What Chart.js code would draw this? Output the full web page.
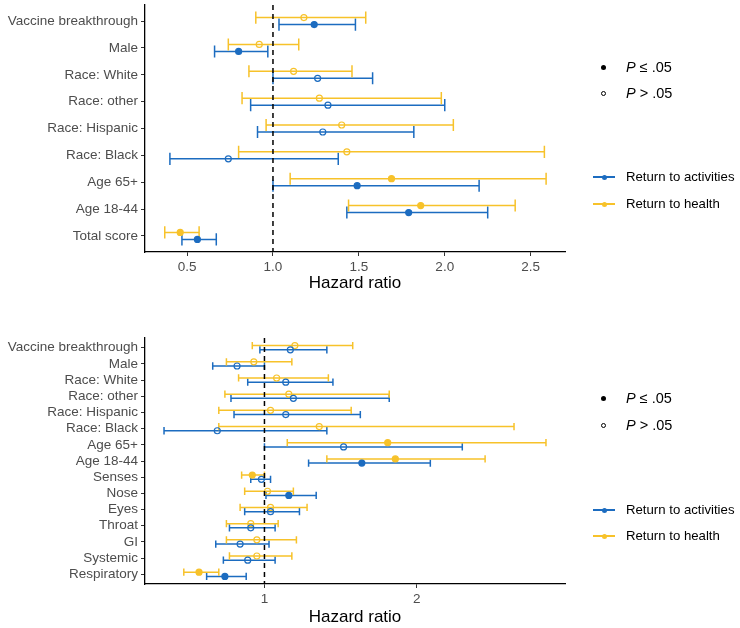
<!DOCTYPE html>
<html>
<head>
<meta charset="utf-8">
<script src="https://cdn.jsdelivr.net/npm/chart.js@4/dist/chart.umd.min.js"></script>
<style>
  html, body { margin: 0; padding: 0; background: #fff; }
  body { width: 740px; height: 628px; position: relative; overflow: hidden; font-family: "Liberation Sans", Arial, sans-serif; }
  .cv { position: absolute; left: 0; }
  .leg { position: absolute; left: 0; top: 0; font-family: "Liberation Sans", Arial, sans-serif; color: #000; }
  .row { position: absolute; height: 20px; line-height: 20px; white-space: nowrap; }
  .p { font-size: 14.5px; left: 626px; }
  .s { font-size: 13.2px; left: 626px; }
  .dot { position: absolute; width: 5px; height: 5px; border-radius: 50%; box-sizing: border-box; }
  .keyline { position: absolute; height: 1.5px; width: 22px; }
</style>
</head>
<body>
<div class="cv" style="top:0;width:740px;height:310px;"><canvas id="c1"></canvas></div>
<div class="cv" style="top:310px;width:740px;height:318px;"><canvas id="c2"></canvas></div>
<div class="leg" id="leg"></div>
<script>
// ---------- DATA ----------
const seriesNames = ["Return to activities", "Return to health"];
const seriesColors = ["#1c6cc0", "#f7c22a"];

// Top panel (listed top to bottom)
const cats1 = ["Vaccine breakthrough","Male","Race: White","Race: other","Race: Hispanic","Race: Black","Age 65+","Age 18-44","Total score"];
const act1HR  = [1.24, 0.80, 1.26, 1.32, 1.29, 0.74, 1.49, 1.79, 0.56];
const act1Lo  = [1.035,0.66, 1.00, 0.87, 0.91, 0.40, 1.00, 1.43, 0.47];
const act1Hi  = [1.48, 0.97, 1.58, 2.00, 1.82, 1.38, 2.20, 2.25, 0.67];
const act1Sig = [1, 1, 0, 0, 0, 0, 1, 1, 1];
const hea1HR  = [1.18, 0.92, 1.12, 1.27, 1.40, 1.43, 1.69, 1.86, 0.46];
const hea1Lo  = [0.90, 0.74, 0.86, 0.82, 0.96, 0.80, 1.10, 1.44, 0.37];
const hea1Hi  = [1.54, 1.15, 1.46, 1.98, 2.05, 2.58, 2.59, 2.41, 0.57];
const hea1Sig = [0, 0, 0, 0, 0, 0, 1, 1, 1];
const xTicks1 = [0.5, 1.0, 1.5, 2.0, 2.5];
const xTickLabels1 = ["0.5", "1.0", "1.5", "2.0", "2.5"];

// Bottom panel (listed top to bottom)
const cats2 = ["Vaccine breakthrough","Male","Race: White","Race: other","Race: Hispanic","Race: Black","Age 65+","Age 18-44","Senses","Nose","Eyes","Throat","GI","Systemic","Respiratory"];
const act2HR  = [1.17, 0.82, 1.14, 1.19, 1.14, 0.69, 1.52, 1.64, 0.98, 1.16, 1.04, 0.91, 0.84, 0.89, 0.74];
const act2Lo  = [0.97, 0.66, 0.89, 0.78, 0.80, 0.34, 1.00, 1.29, 0.91, 1.01, 0.87, 0.77, 0.68, 0.73, 0.62];
const act2Hi  = [1.41, 1.00, 1.45, 1.82, 1.63, 1.41, 2.30, 2.09, 1.04, 1.34, 1.23, 1.07, 1.03, 1.07, 0.88];
const act2Sig = [0, 0, 0, 0, 0, 0, 0, 1, 0, 1, 0, 0, 0, 0, 1];
const hea2HR  = [1.20, 0.93, 1.08, 1.16, 1.04, 1.36, 1.81, 1.86, 0.92, 1.02, 1.04, 0.91, 0.95, 0.95, 0.57];
const hea2Lo  = [0.92, 0.75, 0.83, 0.74, 0.70, 0.70, 1.15, 1.41, 0.85, 0.87, 0.84, 0.75, 0.75, 0.77, 0.47];
const hea2Hi  = [1.58, 1.18, 1.42, 1.82, 1.57, 2.64, 2.85, 2.45, 1.00, 1.19, 1.28, 1.09, 1.21, 1.18, 0.70];
const hea2Sig = [0, 0, 0, 0, 0, 0, 1, 1, 1, 0, 0, 0, 0, 0, 1];
const xTicks2 = [1, 2];
const xTickLabels2 = ["1", "2"];

const refValue = 1;
const pLabels = ["≤ .05", "> .05"];

// ---------- HELPERS ----------
const DODGE = 0.13;
const CAPHALF = 0.225;
const TICK_FONT = { family: "'Liberation Sans', Arial, sans-serif", size: 13.5 };

function makeDataset(idx, cats, hr, lo, hi, sig, off) {
  const n = cats.length;
  const col = seriesColors[idx];
  return {
    label: seriesNames[idx],
    data: hr.map((v, i) => ({ x: v, y: n - 1 - i + off })),
    lo: lo, hi: hi, off: off, n: n,
    pointRadius: 3,
    pointHoverRadius: 3,
    pointBorderWidth: 1.2,
    pointBorderColor: col,
    pointBackgroundColor: sig.map(s => s ? col : "rgba(0,0,0,0)"),
    errColor: col,
    showLine: false
  };
}

const errorBarPlugin = {
  id: "errbars",
  beforeDatasetsDraw(chart) {
    const { ctx } = chart;
    const xs = chart.scales.x, ys = chart.scales.y;
    const capPx = Math.abs(ys.getPixelForValue(CAPHALF) - ys.getPixelForValue(0));
    ctx.save();
    ctx.lineWidth = 1.5;
    chart.data.datasets.forEach(ds => {
      ctx.strokeStyle = ds.errColor;
      ds.lo.forEach((l, i) => {
        const y = ys.getPixelForValue(ds.n - 1 - i + ds.off);
        const x1 = xs.getPixelForValue(l);
        const x2 = xs.getPixelForValue(ds.hi[i]);
        ctx.beginPath();
        ctx.moveTo(x1, y); ctx.lineTo(x2, y);
        ctx.moveTo(x1, y - capPx); ctx.lineTo(x1, y + capPx);
        ctx.moveTo(x2, y - capPx); ctx.lineTo(x2, y + capPx);
        ctx.stroke();
      });
    });
    ctx.restore();
  },
  afterDatasetsDraw(chart) {
    const { ctx, chartArea } = chart;
    const x = chart.scales.x.getPixelForValue(refValue);
    ctx.save();
    ctx.strokeStyle = "#000";
    ctx.lineWidth = 1.5;
    ctx.setLineDash([5, 4]);
    ctx.beginPath();
    ctx.moveTo(x, chartArea.top);
    ctx.lineTo(x, chartArea.bottom);
    ctx.stroke();
    ctx.restore();
  }
};

function buildChart(canvasId, cats, sets, xMin, xMax, xTicks, xTickLabels, padTop, xAxisHeight, titlePadBottom) {
  const n = cats.length;
  return new Chart(document.getElementById(canvasId), {
    type: "scatter",
    data: { datasets: sets },
    plugins: [errorBarPlugin],
    options: {
      responsive: true,
      maintainAspectRatio: false,
      animation: false,
      events: [],
      layout: { padding: { top: padTop, right: 175, bottom: 0, left: 0 } },
      plugins: { legend: { display: false }, tooltip: { enabled: false } },
      scales: {
        x: {
          type: "linear",
          min: xMin, max: xMax,
          afterBuildTicks: s => { s.ticks = xTicks.map(v => ({ value: v })); },
          afterFit: s => { s.height = xAxisHeight; s.paddingLeft = 0; s.paddingRight = 0; },
          ticks: {
            callback: (v) => { const k = xTicks.indexOf(v); return k >= 0 ? xTickLabels[k] : ""; },
            color: "#4d4d4d",
            font: TICK_FONT,
            padding: 3,
            maxRotation: 0, autoSkip: false
          },
          grid: { display: true, drawOnChartArea: false, drawTicks: true, tickLength: 4, color: "#333", lineWidth: 1 },
          border: { display: true, color: "#000", width: 1.3 },
          title: {
            display: true, text: "Hazard ratio", color: "#000",
            font: { family: "'Liberation Sans', Arial, sans-serif", size: 17 },
            padding: { top: 0, bottom: titlePadBottom }
          }
        },
        y: {
          type: "linear",
          min: -0.6, max: n - 1 + 0.6,
          afterBuildTicks: s => { s.ticks = cats.map((c, i) => ({ value: i })); },
          afterFit: s => { s.width = 145; s.paddingTop = 0; s.paddingBottom = 0; },
          ticks: {
            callback: (v) => { const i = Math.round(v); return (i >= 0 && i < n) ? cats[n - 1 - i] : ""; },
            color: "#4d4d4d",
            font: TICK_FONT,
            padding: 3,
            autoSkip: false
          },
          grid: { display: true, drawOnChartArea: false, drawTicks: true, tickLength: 4, color: "#333", lineWidth: 1 },
          border: { display: true, color: "#000", width: 1.3 }
        }
      }
    }
  });
}

buildChart("c1", cats1, [
  makeDataset(0, cats1, act1HR, act1Lo, act1Hi, act1Sig, -DODGE),
  makeDataset(1, cats1, hea1HR, hea1Lo, hea1Hi, hea1Sig, DODGE)
], 0.255, 2.70, xTicks1, xTickLabels1, 5, 58, 16);

buildChart("c2", cats2, [
  makeDataset(0, cats2, act2HR, act2Lo, act2Hi, act2Sig, -DODGE),
  makeDataset(1, cats2, hea2HR, hea2Lo, hea2Hi, hea2Sig, DODGE)
], 0.215, 2.975, xTicks2, xTickLabels2, 28, 44, 0);

// ---------- LEGENDS (HTML text) ----------
const leg = document.getElementById("leg");
function addLegend(yP1, yP2, yS1, yS2) {
  [[yP1, true], [yP2, false]].forEach(([y, filled], k) => {
    const d = document.createElement("div");
    d.className = "dot";
    d.style.left = (603 - 2.5) + "px"; d.style.top = (y - 2.5) + "px";
    d.style.background = filled ? "#000" : "transparent";
    d.style.border = filled ? "none" : "1px solid #000";
    leg.appendChild(d);
    const t = document.createElement("div");
    t.className = "row p";
    t.style.top = (y - 10) + "px";
    t.innerHTML = "<i>P</i> " + pLabels[k];
    leg.appendChild(t);
  });
  [yS1, yS2].forEach((y, k) => {
    const l = document.createElement("div");
    l.className = "keyline";
    l.style.left = "593px"; l.style.top = (y - 0.75) + "px";
    l.style.background = seriesColors[k];
    leg.appendChild(l);
    const d = document.createElement("div");
    d.className = "dot";
    d.style.left = (604 - 2.5) + "px"; d.style.top = (y - 2.5) + "px";
    d.style.background = seriesColors[k];
    leg.appendChild(d);
    const t = document.createElement("div");
    t.className = "row s";
    t.style.top = (y - 10) + "px";
    t.textContent = seriesNames[k];
    leg.appendChild(t);
  });
}
addLegend(67, 93, 177, 204);
addLegend(398, 425, 510, 536);
</script>
</body>
</html>
